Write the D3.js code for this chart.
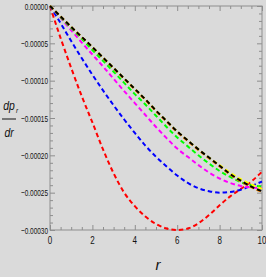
<!DOCTYPE html>
<html>
<head>
<meta charset="utf-8">
<script src="https://cdn.jsdelivr.net/npm/d3@7"></script>
<style>
  body { margin: 0; background: #dadada; }
  svg { display: block; }
  text { font-family: 'Liberation Sans', Arial, sans-serif; }
</style>
</head>
<body>
<div id="chart"></div>
<script>
// r grid and dp_r/dr values (units of 1e-4)
const rValues = [0, 0.5, 1, 1.5, 2, 2.5, 3, 3.5, 4, 4.5, 5, 5.5, 6, 6.5, 7, 7.5, 8, 8.5, 9, 9.5, 10];
const redSeries     = [0, -0.43, -0.83, -1.21, -1.56, -1.92, -2.24, -2.50, -2.68, -2.82, -2.92, -2.98, -3.00, -2.98, -2.91, -2.80, -2.67, -2.55, -2.45, -2.35, -2.22];
const blueSeries    = [0, -0.23, -0.47, -0.70, -0.92, -1.13, -1.33, -1.52, -1.70, -1.87, -2.02, -2.15, -2.27, -2.37, -2.44, -2.48, -2.50, -2.49, -2.46, -2.41, -2.35];
const magentaSeries = [0, -0.16, -0.325, -0.49, -0.65, -0.81, -0.975, -1.14, -1.30, -1.46, -1.62, -1.77, -1.91, -2.02, -2.13, -2.23, -2.31, -2.37, -2.41, -2.43, -2.44];
const greenSeries   = [0, -0.15, -0.295, -0.44, -0.59, -0.735, -0.88, -1.03, -1.18, -1.32, -1.47, -1.62, -1.76, -1.88, -2.00, -2.11, -2.21, -2.29, -2.36, -2.40, -2.42];
const yellowSeries  = [0, -0.14, -0.28, -0.415, -0.55, -0.69, -0.83, -0.97, -1.11, -1.25, -1.40, -1.54, -1.68, -1.80, -1.92, -2.03, -2.13, -2.23, -2.32, -2.39, -2.45];
const orangeSeries  = [0, -0.141, -0.282, -0.418, -0.555, -0.696, -0.837, -0.978, -1.12, -1.26, -1.41, -1.55, -1.69, -1.81, -1.93, -2.04, -2.15, -2.26, -2.35, -2.43, -2.49];
const blackSeries   = [0, -0.14, -0.28, -0.415, -0.55, -0.69, -0.83, -0.97, -1.11, -1.25, -1.40, -1.54, -1.68, -1.80, -1.92, -2.03, -2.14, -2.25, -2.34, -2.42, -2.48];

const xTicks = [0, 2, 4, 6, 8, 10];
const yTicks = [0, -0.00005, -0.0001, -0.00015, -0.0002, -0.00025, -0.0003];
const yTickLabels = ['0.00000', '\u22120.00005', '\u22120.00010', '\u22120.00015', '\u22120.00020', '\u22120.00025', '\u22120.00030'];
const xMinor = [0.5, 1, 1.5, 2.5, 3, 3.5, 4.5, 5, 5.5, 6.5, 7, 7.5, 8.5, 9, 9.5];
const yMinor = [-0.00001, -0.00002, -0.00003, -0.00004, -0.00006, -0.00007, -0.00008, -0.00009,
  -0.00011, -0.00012, -0.00013, -0.00014, -0.00016, -0.00017, -0.00018, -0.00019,
  -0.00021, -0.00022, -0.00023, -0.00024, -0.00026, -0.00027, -0.00028, -0.00029];

const series = [
  { color: '#ff0000', values: redSeries },
  { color: '#0000ff', values: blueSeries },
  { color: '#ff00ff', values: magentaSeries },
  { color: '#00ff00', values: greenSeries },
  { color: '#ffff00', values: yellowSeries },
  { color: '#ff8c00', values: orangeSeries },
  { color: '#000000', values: blackSeries }
];

const width = 266, height = 277;
const margin = { left: 50, right: 262, top: 6, bottom: 230 };

const svg = d3.select('#chart').append('svg')
  .attr('width', width)
  .attr('height', height);

svg.append('rect').attr('width', width).attr('height', height).attr('fill', '#dadada');

const x = d3.scaleLinear().domain([0, 10]).range([margin.left, margin.right]);
const y = d3.scaleLinear().domain([-0.0003, 0]).range([margin.bottom, margin.top]);

const frameColor = '#8e8e8e';

// frame ticks (inward), all four sides
function tickAxis(axisFn, scale, values, size, transform) {
  const g = svg.append('g')
    .attr('transform', transform)
    .call(axisFn(scale).tickValues(values).tickSize(-size).tickFormat(''));
  g.select('.domain').remove();
  g.selectAll('line').attr('stroke', frameColor).attr('stroke-width', 1);
}
tickAxis(d3.axisBottom, x, xTicks, 5, `translate(0,${margin.bottom})`);
tickAxis(d3.axisBottom, x, xMinor, 3, `translate(0,${margin.bottom})`);
tickAxis(d3.axisTop, x, xTicks, 5, `translate(0,${margin.top})`);
tickAxis(d3.axisTop, x, xMinor, 3, `translate(0,${margin.top})`);
tickAxis(d3.axisLeft, y, yTicks, 5, `translate(${margin.left},0)`);
tickAxis(d3.axisLeft, y, yMinor, 3, `translate(${margin.left},0)`);
tickAxis(d3.axisRight, y, yTicks, 5, `translate(${margin.right},0)`);
tickAxis(d3.axisRight, y, yMinor, 3, `translate(${margin.right},0)`);

svg.append('rect')
  .attr('x', margin.left).attr('y', margin.top)
  .attr('width', margin.right - margin.left).attr('height', margin.bottom - margin.top)
  .attr('fill', 'none')
  .attr('stroke', frameColor)
  .attr('stroke-width', 1);

// tick labels (narrow, like the original)
svg.selectAll('.ylab')
  .data(yTicks)
  .enter()
  .append('text')
  .attr('transform', d => `translate(${margin.left - 2},${y(d) + 3.5}) scale(0.68,1)`)
  .attr('text-anchor', 'end')
  .attr('font-size', '9.5px')
  .attr('fill', '#111')
  .text((d, i) => yTickLabels[i]);

svg.selectAll('.xlab')
  .data(xTicks)
  .enter()
  .append('text')
  .attr('transform', d => `translate(${x(d)},${margin.bottom + 14}) scale(0.8,1)`)
  .attr('text-anchor', 'middle')
  .attr('font-size', '10px')
  .attr('fill', '#111')
  .text(d => d);

// curves
const line = d3.line()
  .x((d, i) => x(rValues[i]))
  .y(d => y(d * 1e-4))
  .curve(d3.curveMonotoneX);

const plot = svg.append('g');
series.forEach(s => {
  plot.append('path')
    .datum(s.values)
    .attr('fill', 'none')
    .attr('stroke', s.color)
    .attr('stroke-width', 2)
    .attr('stroke-dasharray', '4.5,3')
    .attr('d', line);
});

// axis titles
const ylab = svg.append('g');
ylab.append('text')
  .attr('transform', 'translate(9,110) scale(0.8,1)')
  .attr('text-anchor', 'middle')
  .attr('font-size', '13px')
  .attr('font-style', 'italic')
  .attr('fill', '#111')
  .text('dp');
ylab.append('text')
  .attr('transform', 'translate(16,113) scale(0.8,1)')
  .attr('font-size', '8px')
  .attr('font-style', 'italic')
  .attr('fill', '#111')
  .text('r');
ylab.append('line')
  .attr('x1', 2).attr('x2', 16)
  .attr('y1', 119).attr('y2', 119)
  .attr('stroke', '#111')
  .attr('stroke-width', 1);
ylab.append('text')
  .attr('transform', 'translate(9,137) scale(0.8,1)')
  .attr('text-anchor', 'middle')
  .attr('font-size', '13px')
  .attr('font-style', 'italic')
  .attr('fill', '#111')
  .text('dr');

svg.append('text')
  .attr('x', x(5) + 2).attr('y', 270)
  .attr('text-anchor', 'middle')
  .attr('font-size', '15px')
  .attr('font-style', 'italic')
  .attr('fill', '#111')
  .text('r');
</script>
</body>
</html>
